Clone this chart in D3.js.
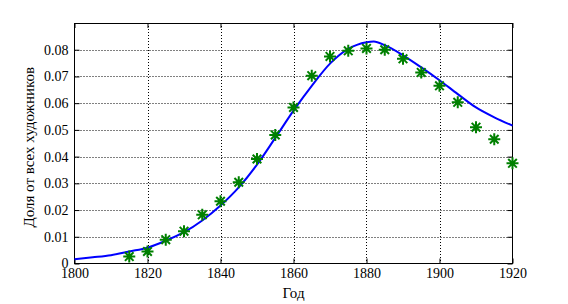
<!DOCTYPE html>
<html>
<head>
<meta charset="utf-8">
<script src="https://cdn.jsdelivr.net/npm/d3@7"></script>
<style>
  body { margin: 0; background: #fff; }
</style>
</head>
<body>
<div id="chart"></div>
<script>
// observed shares (green stars)
var obsYears = [1815, 1820, 1825, 1830, 1835, 1840, 1845, 1850, 1855, 1860, 1865,
                1870, 1875, 1880, 1885, 1890, 1895, 1900, 1905, 1910, 1915, 1920];
var obsShare = [0.0026, 0.0045, 0.0089, 0.0121, 0.0182, 0.0233, 0.0304, 0.0391, 0.0481, 0.0584, 0.0703,
                0.0775, 0.0796, 0.0805, 0.0800, 0.0766, 0.0715, 0.0665, 0.0603, 0.0510, 0.0465, 0.0375];

// fitted curve (blue line)
var fitYears = [1800, 1805, 1810, 1815, 1820, 1825, 1830, 1835, 1840, 1845, 1850, 1855, 1860,
                1865, 1870, 1875, 1880, 1882, 1885, 1890, 1895, 1900, 1905, 1910, 1915, 1920];
var fitShare = [0.0016, 0.0023, 0.0031, 0.0045, 0.0059, 0.0085, 0.0117, 0.0161, 0.0217, 0.0285, 0.0370, 0.0470, 0.0572,
                0.0665, 0.0748, 0.0803, 0.0828, 0.0831, 0.0817, 0.0779, 0.0734, 0.0686, 0.0634, 0.0584, 0.0547, 0.0516];

var xTicks = [1800, 1820, 1840, 1860, 1880, 1900, 1920];
var yTicks = [0, 0.01, 0.02, 0.03, 0.04, 0.05, 0.06, 0.07, 0.08];

var xLabel = "Год";
var yLabel = "Доля от всех художников";

var svgWidth = 568, svgHeight = 304;
var pLeft = 74.5, pRight = 512.5, pTop = 23, pBottom = 263.5;
var serif = "Liberation Serif";

var svg = d3.select("#chart").append("svg")
    .attr("width", svgWidth)
    .attr("height", svgHeight)
    .attr("font-family", serif);

svg.append("rect").attr("width", svgWidth).attr("height", svgHeight).attr("fill", "#fff");

var x = d3.scaleLinear().domain([1800, 1920]).range([pLeft, pRight]);
var y = d3.scaleLinear().domain([0, 0.09]).range([pBottom, pTop]);

// grid
var grid = svg.append("g").attr("stroke", "#000").attr("stroke-width", 1)
    .attr("stroke-dasharray", "1,2").attr("fill", "none");
grid.selectAll(".vg").data(xTicks.slice(1, -1)).enter().append("line")
    .attr("x1", d => Math.round(x(d)) + 0.5).attr("x2", d => Math.round(x(d)) + 0.5)
    .attr("y1", pTop).attr("y2", pBottom);
grid.selectAll(".hg").data(yTicks.slice(1)).enter().append("line")
    .attr("y1", d => Math.round(y(d)) + 0.5).attr("y2", d => Math.round(y(d)) + 0.5)
    .attr("x1", pLeft).attr("x2", pRight);

// axes
var fmtY = d => d === 0 ? "0" : d3.format(".2f")(d);
var bottomAxis = d3.axisBottom(x).tickValues(xTicks).tickFormat(d3.format("d")).tickSize(-5).tickPadding(5);
var topAxis = d3.axisTop(x).tickValues(xTicks).tickFormat("").tickSize(-5);
var leftAxis = d3.axisLeft(y).tickValues(yTicks).tickFormat(fmtY).tickSize(-5).tickPadding(6);
var rightAxis = d3.axisRight(y).tickValues(yTicks).tickFormat("").tickSize(-5);

function styleAxis(g) {
  g.attr("font-family", serif).attr("font-size", 14);
  g.select(".domain").remove();
  g.selectAll("line").attr("stroke", "#000");
  g.selectAll("text").attr("fill", "#000");
}

svg.append("g").attr("transform", `translate(0,${pBottom})`).call(bottomAxis).call(styleAxis);
svg.append("g").attr("transform", `translate(0,${pTop})`).call(topAxis).call(styleAxis);
svg.append("g").attr("transform", `translate(${pLeft},0)`).call(leftAxis).call(styleAxis);
svg.append("g").attr("transform", `translate(${pRight},0)`).call(rightAxis).call(styleAxis);

// frame
svg.append("rect")
    .attr("x", pLeft).attr("y", pTop + 0.5)
    .attr("width", pRight - pLeft).attr("height", pBottom - pTop - 0.5)
    .attr("fill", "none").attr("stroke", "#000").attr("stroke-width", 1);

// fitted line
var line = d3.line().x((d, i) => x(fitYears[i])).y(d => y(d)).curve(d3.curveMonotoneX);
svg.append("path").datum(fitShare)
    .attr("d", line)
    .attr("fill", "none").attr("stroke", "#0000ff").attr("stroke-width", 2);

// star markers
var r1 = 6, r2 = 4.3;
var star = `M${-r1},0H${r1}M0,${-r1}V${r1}M${-r2},${-r2}L${r2},${r2}M${-r2},${r2}L${r2},${-r2}`;
svg.append("g").selectAll("path").data(obsShare).enter().append("path")
    .attr("transform", (d, i) => `translate(${x(obsYears[i])},${y(d)})`)
    .attr("d", star)
    .attr("fill", "none").attr("stroke", "#008000").attr("stroke-width", 2);

// labels
svg.append("text").attr("x", (pLeft + pRight) / 2).attr("y", 298)
    .attr("text-anchor", "middle").attr("font-size", 15).text(xLabel);
svg.append("text")
    .attr("transform", `translate(34,${(pTop + pBottom) / 2 + 4}) rotate(-90)`)
    .attr("text-anchor", "middle").attr("font-size", 15).text(yLabel);
</script>
</body>
</html>
